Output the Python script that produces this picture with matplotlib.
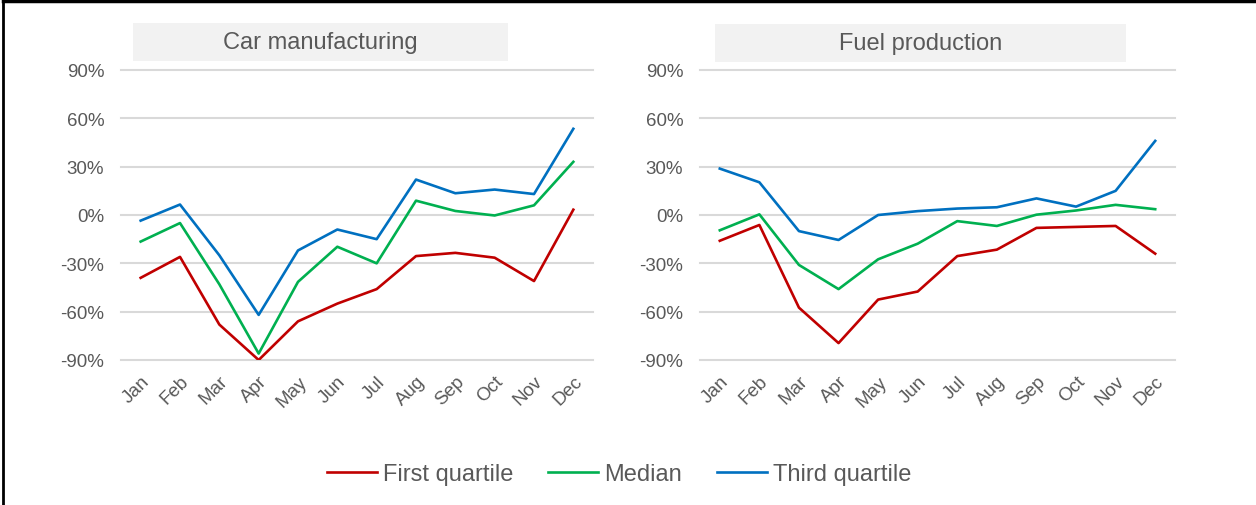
import matplotlib
matplotlib.use("Agg")
import matplotlib.pyplot as plt
from matplotlib.lines import Line2D
from matplotlib.patches import Rectangle

plt.rcParams['font.family'] = ['Liberation Sans', 'DejaVu Sans']

months = ['Jan', 'Feb', 'Mar', 'Apr', 'May', 'Jun',
          'Jul', 'Aug', 'Sep', 'Oct', 'Nov', 'Dec']
yticks = [-90, -60, -30, 0, 30, 60, 90]

# monthly change (%), car manufacturing
car_q1 = [-39, -26, -68, -90, -66, -55, -46, -25.5, -23.5, -26.5, -41, 3.3]
car_med = [-16.5, -5, -43, -86, -41.5, -19.7, -30, 8.9, 2.5, -0.3, 6, 33]
car_q3 = [-3.5, 6.5, -25, -62, -22, -9, -15, 22, 13.5, 15.8, 13, 53.5]

# monthly change (%), fuel production
fuel_q1 = [-16, -6.2, -57.5, -79.5, -52.5, -47.5, -25.5, -21.5, -8, -7.4, -6.8, -24]
fuel_med = [-9.5, 0.4, -31, -46, -27.5, -17.8, -3.8, -6.8, 0.2, 2.8, 6.3, 3.6]
fuel_q3 = [28.8, 20.3, -10, -15.5, 0, 2.4, 4, 4.8, 10.3, 5.2, 15, 46]

series_names = ['First quartile', 'Median', 'Third quartile']
colors = ['#C00000', '#00B050', '#0070C0']
gray = '#595959'

W, H = 1256, 506
fig = plt.figure(figsize=(W / 100, H / 100), dpi=100)


def px_axes(x0, x1, ytop, ybot):
    return fig.add_axes([x0 / W, 1 - ybot / H, (x1 - x0) / W, (ybot - ytop) / H])


def draw_panel(ax, title, data, box):
    x = list(range(len(months)))
    for vals, c in zip(data, colors):
        ax.plot(x, vals, color=c, lw=1.9)
    ax.set_xlim(-0.5, len(months) - 0.5)
    ax.set_ylim(-90, 90)
    ax.set_yticks(yticks)
    ax.set_yticklabels([f'{v}%' for v in yticks])
    ax.set_xticks(x)
    ax.set_xticklabels(months, rotation=45, ha='right', va='top',
                       rotation_mode='anchor')
    ax.tick_params(axis='both', length=0, labelsize=13.5, labelcolor=gray)
    ax.tick_params(axis='y', pad=12)
    ax.tick_params(axis='x', pad=9)
    for s in ax.spines.values():
        s.set_visible(False)
    ax.yaxis.grid(True, color='#d9d9d9', lw=1.5)
    ax.set_axisbelow(True)
    for gl in ax.get_ygridlines():
        gl.set_clip_on(False)

    # grey title banner above the plot
    bx0, bx1, by0, by1 = box
    fig.patches.append(Rectangle((bx0 / W, 1 - by1 / H), (bx1 - bx0) / W,
                                 (by1 - by0) / H, transform=fig.transFigure,
                                 facecolor='#f2f2f2', edgecolor='none'))
    fig.text((bx0 + bx1) / 2 / W, 1 - (by0 + by1) / 2 / H, title,
             ha='center', va='center', fontsize=17, color=gray)


ax1 = px_axes(121, 593, 71, 361)
draw_panel(ax1, 'Car manufacturing', [car_q1, car_med, car_q3], (133, 508, 24, 62))

ax2 = px_axes(700, 1175, 71, 361)
draw_panel(ax2, 'Fuel production', [fuel_q1, fuel_med, fuel_q3], (715, 1126, 25, 63))

handles = [Line2D([], [], color=c, lw=1.9) for c in colors]
fig.legend(handles, series_names, loc='center', bbox_to_anchor=(619 / W, 1 - 475 / H),
           ncol=3, frameon=False, fontsize=17, labelcolor=gray,
           handlelength=2.1, handletextpad=0.25, columnspacing=1.5)

# outer frame (left and top edges)
fig.add_artist(Line2D([3 / W, 3 / W], [0, 1], color='black', lw=2,
                      transform=fig.transFigure))
fig.add_artist(Line2D([3 / W, 1], [1 - 2 / H, 1 - 2 / H], color='black', lw=2.5,
                      transform=fig.transFigure))

fig.savefig('out.png', dpi=100)
